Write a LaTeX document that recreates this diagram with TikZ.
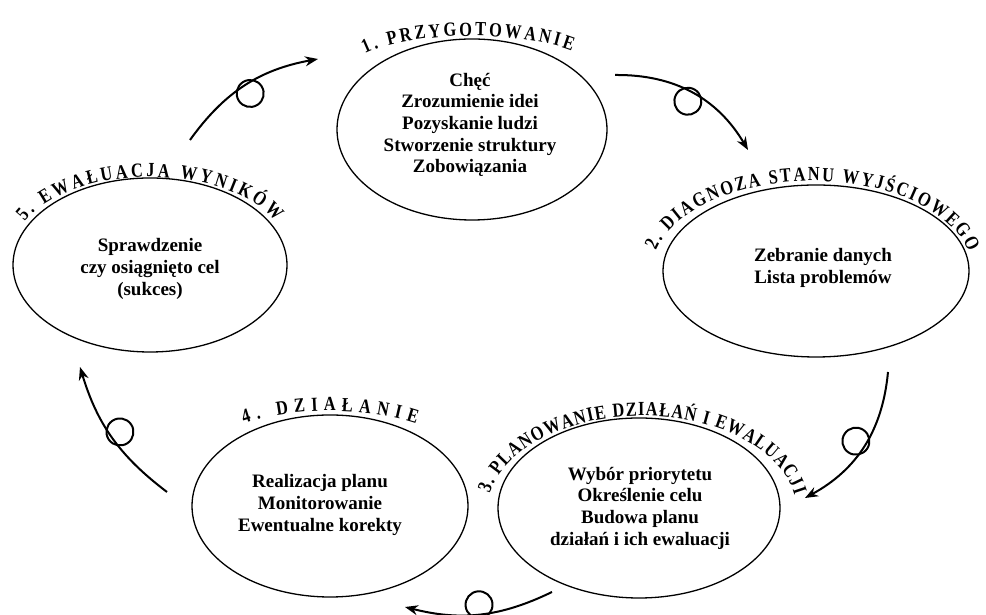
\documentclass[tikz,border=0pt]{standalone}
\usepackage{fontspec}
\setmainfont{Liberation Serif}
\newfontfamily\lblfont{Liberation Serif}[FakeStretch=0.82]
\usetikzlibrary{shapes.geometric,decorations.text,arrows.meta}
\begin{document}
\begin{tikzpicture}[x=1pt,y=1pt,
  phase/.style={ellipse, draw, line width=1.3pt, inner sep=0pt},
  phasetext/.style={align=center, inner sep=0pt, font=\fontsize{19}{21.7}\selectfont\bfseries},
  cyclearrow/.style={line width=2pt, -{Stealth[length=13pt,width=10pt]}},
  loopc/.style={circle, draw, line width=2pt, minimum size=27pt, inner sep=0pt, outer sep=-4pt, pos=.5, sloped, allow upside down, anchor=north},
  arclabel/.style={decorate, decoration={text along path, text align=fit to path, text={|\lblfont\fontsize{20}{20}\selectfont\bfseries|#1}}}
]
\useasboundingbox (0,0) rectangle (986,615);

% ellipses
\node[phase, minimum width=270pt, minimum height=181pt] (e1) at (472,485.5) {};
\node[phase, minimum width=306pt, minimum height=172pt] (e2) at (816,344) {};
\node[phase, minimum width=282pt, minimum height=180pt] (e3) at (639,107) {};
\node[phase, minimum width=276pt, minimum height=182pt] (e4) at (330,109) {};
\node[phase, minimum width=274pt, minimum height=174pt] (e5) at (150,350) {};

% texts
\node[phasetext] (t1) at (470,490) {Chęć\\Zrozumienie idei\\Pozyskanie ludzi\\Stworzenie struktury\\Zobowiązania};
\node[phasetext] (t2) at (823,347) {Zebranie danych\\Lista problemów};
\node[phasetext] (t3) at (640,107) {Wybór priorytetu\\Określenie celu\\Budowa planu\\działań i ich ewaluacji};
\node[phasetext] (t4) at (320,110) {Realizacja planu\\Monitorowanie\\Ewentualne korekty};
\node[phasetext] (t5) at (150,346) {Sprawdzenie\\czy osiągnięto cel\\(sukces)};

% curved labels
\path[arclabel={1. PRZYGOTOWANIE}] ([shift={(149:125 and 37)}]472,542) arc[start angle=149, end angle=37, x radius=125, y radius=37];
\path[arclabel={2. DIAGNOZA STANU WYJŚCIOWEGO}] ([shift={(167:160 and 90)}]812,344) arc[start angle=167, end angle=12, x radius=160, y radius=90];
\path[arclabel={3. PLANOWANIE DZIAŁAŃ I EWALUACJI}] ([shift={(169:155 and 96)}]642,103) arc[start angle=169, end angle=10, x radius=155, y radius=96];
\path[arclabel={4. DZIAŁANIE}] ([shift={(128:140 and 60)}]330,144) arc[start angle=128, end angle=52, x radius=140, y radius=60];
\path[arclabel={5. EWAŁUACJA WYNIKÓW}] ([shift={(158:135 and 72)}]150,366) arc[start angle=158, end angle=22, x radius=135, y radius=72];

% arrows
\coordinate (a1s) at (615,540); \coordinate (a1e) at (748,465);
\coordinate (a2s) at (888,243); \coordinate (a2e) at (805,117);
\coordinate (a3s) at (552,23);  \coordinate (a3e) at (405,8);
\coordinate (a4s) at (167,123); \coordinate (a4e) at (80,248);
\coordinate (a5s) at (190,475); \coordinate (a5e) at (318,556);

\draw[cyclearrow] (a1s) to[bend left=30] node[loopc] (c1) {} (a1e);
\draw[cyclearrow] (a2s) to[bend left=28] node[loopc] (c2) {} (a2e);
\draw[cyclearrow] (a3s) to[bend left=20] node[loopc] (c3) {} (a3e);
\draw[cyclearrow] (a4s) to[bend left=18] node[loopc] (c4) {} (a4e);
\draw[cyclearrow] (a5s) to[bend left=22] node[loopc] (c5) {} (a5e);
\end{tikzpicture}
\end{document}
